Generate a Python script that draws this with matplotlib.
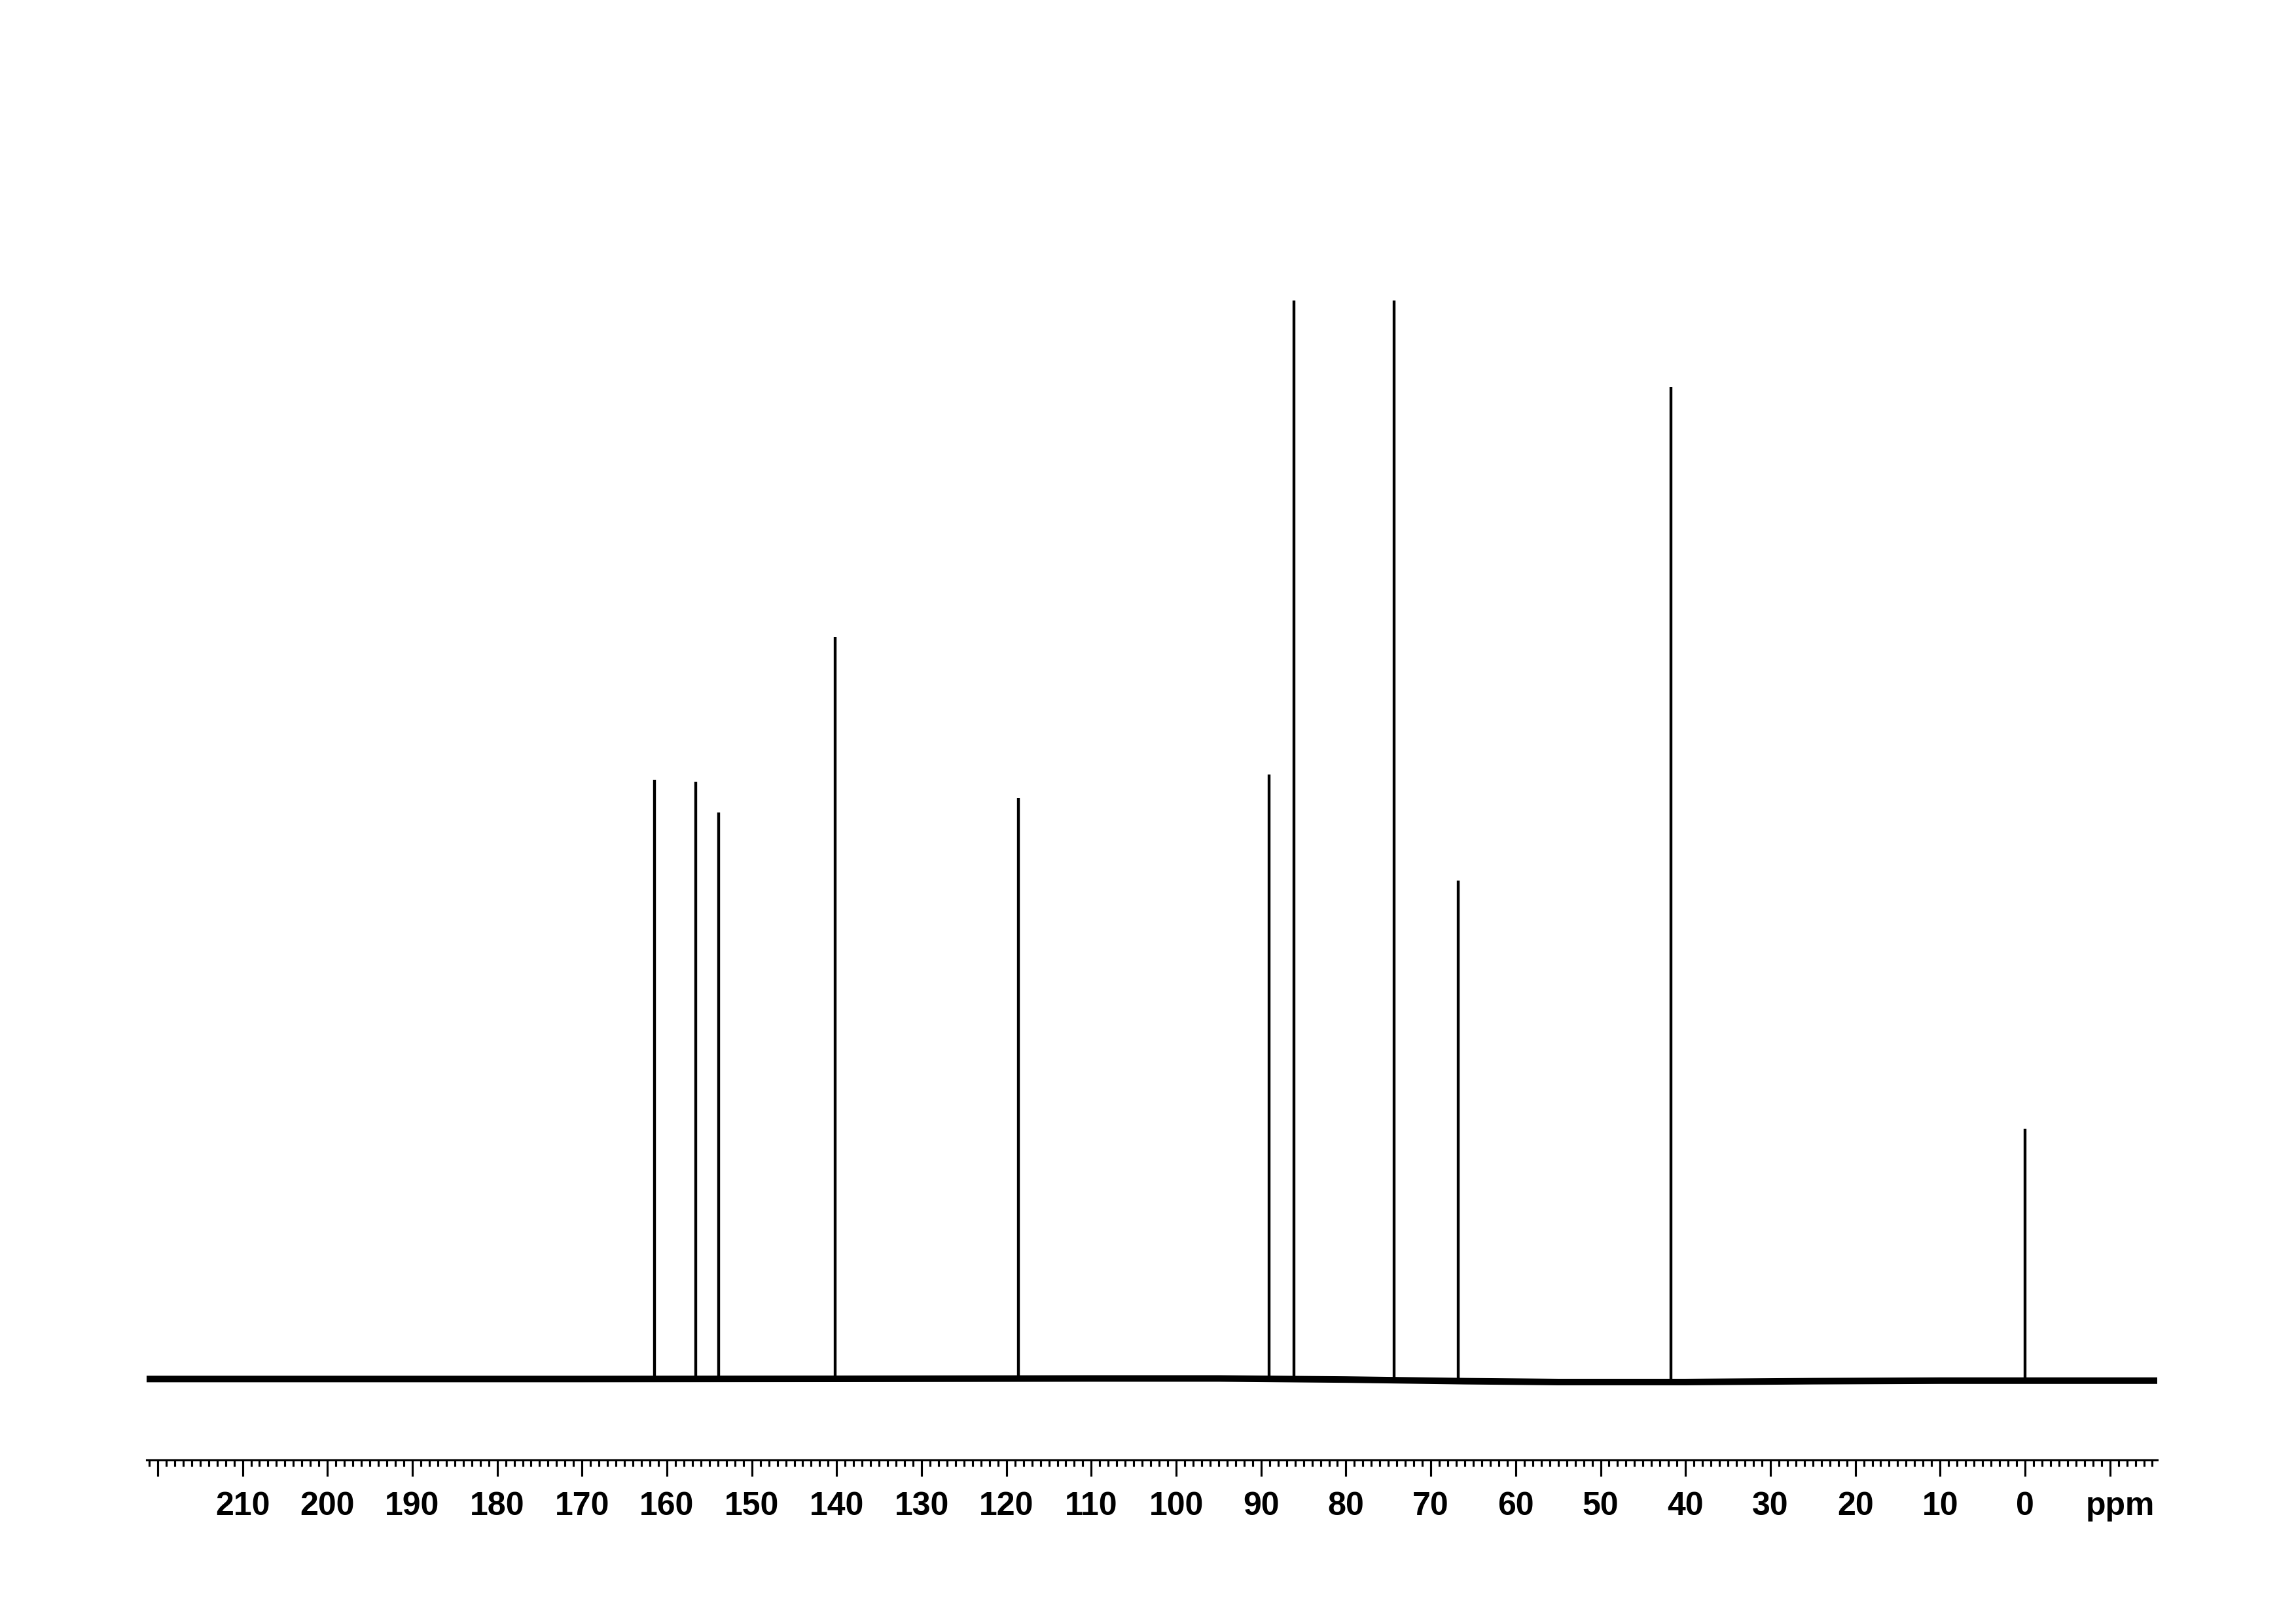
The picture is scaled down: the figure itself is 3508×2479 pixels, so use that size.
import matplotlib
matplotlib.use('Agg')
import matplotlib.pyplot as plt
from matplotlib.ticker import FixedLocator, MultipleLocator
from matplotlib.transforms import ScaledTranslation

# ---- data (13C NMR spectrum) ----
peak_ppm = [161.5, 156.6, 153.9, 140.2, 118.6, 89.05, 86.1, 74.3, 66.8, 41.7, 0.0]
peak_height = [55.6, 55.4, 52.6, 68.8, 53.9, 56.1, 130.0, 130.0, 46.3, 92.0, 23.3]

baseline_ppm = [221.3, 190, 170, 140, 110, 95, 80, 66, 55, 40, 25, 10, -15.6]
baseline_level = [0.1, 0.1, 0.1, 0.12, 0.15, 0.15, 0.05, -0.1, -0.18, -0.18, -0.1, -0.05, -0.05]

major_ticks = list(range(220, -11, -10))
tick_labels = ['' if (t == 220 or t == -10) else str(t) for t in major_ticks]
axis_unit = 'ppm'

# ---- figure ----
W, H, DPI = 3508, 2479, 300
fig = plt.figure(figsize=(W / DPI, H / DPI), dpi=DPI)
fig.patch.set_facecolor('white')

left_px, right_px = 224, 3296
spine_px, top_px = 2230, 459
ax = fig.add_axes([left_px / W, (H - spine_px) / H,
                   (right_px - left_px) / W, (spine_px - top_px) / H])

# baseline (noise band)
ax.plot(baseline_ppm, baseline_level, color='black', lw=2.4,
        solid_joinstyle='miter', zorder=2)

# peaks
def base_at(x):
    for i in range(len(baseline_ppm) - 1):
        a, b = baseline_ppm[i], baseline_ppm[i + 1]
        if b <= x <= a:
            return baseline_level[i]
    return baseline_level[-1]

ax.vlines(peak_ppm, [base_at(p) for p in peak_ppm], peak_height,
          color='black', lw=1.05, zorder=3)

ax.set_xlim(221.3, -15.58)
ax.set_ylim(-7.40, 100)

for s in ['top', 'left', 'right']:
    ax.spines[s].set_visible(False)
ax.spines['bottom'].set_linewidth(0.75)
ax.set_yticks([])

ax.xaxis.set_major_locator(FixedLocator(major_ticks))
ax.xaxis.set_minor_locator(MultipleLocator(1))
ax.set_xticklabels(tick_labels)
ax.tick_params(axis='x', which='major', direction='out', length=6.0,
               width=0.75, pad=5.5, labelsize=12)
ax.tick_params(axis='x', which='minor', direction='out', length=2.4,
               width=0.75)
for lab in ax.get_xticklabels():
    lab.set_fontfamily(['Liberation Sans', 'DejaVu Sans'])
    lab.set_fontweight('bold')

trans = ax.get_xaxis_transform() + ScaledTranslation(0, -(6.0 + 5.5) / 72, fig.dpi_scale_trans)
ax.text(-15.3, 0, axis_unit, transform=trans, ha='right', va='top',
        fontsize=12, fontweight='bold', family=['Liberation Sans', 'DejaVu Sans'])

fig.savefig('out.png', dpi=DPI, facecolor='white')
